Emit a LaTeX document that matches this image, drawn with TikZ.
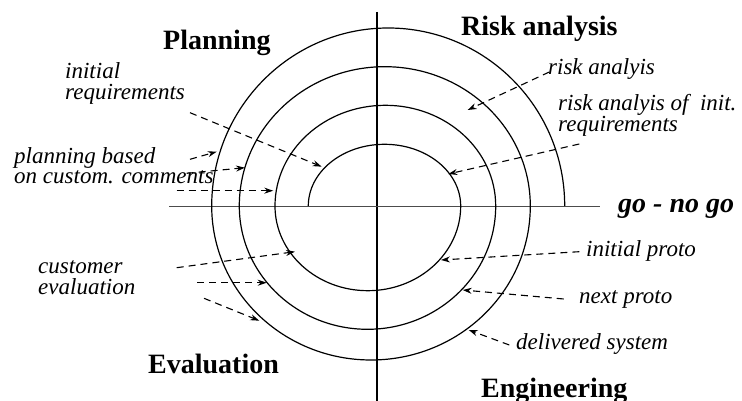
\documentclass[tikz,border=0pt]{standalone}
\usepackage{fontspec}
\setmainfont{Liberation Serif}
\usetikzlibrary{arrows.meta,positioning,calc}
\tikzset{
	x=1pt, y=1pt, >={Stealth[length=9pt,width=6pt]},
	phase/.style={font=\fontsize{28}{30}\selectfont\bfseries, inner sep=0pt, anchor=base west},
	lbl/.style={font=\fontsize{23}{21}\selectfont\itshape, inner sep=0pt, anchor=base west, align=left},
	ring/.style={line width=1.2pt},
	hint/.style={->, line width=1.1pt, dash pattern=on 7pt off 5pt},
}
\begin{document}
\begin{tikzpicture}
	\useasboundingbox (0,0) rectangle (742,401);
	\draw[line width=1.6pt] (377,389) -- (377,0);
	\draw[line width=0.9pt, black!70] (169,195) -- (600,195);
	\draw[ring] (308.3,195)
		arc[start angle=180, end angle=0, x radius=76.2, y radius=61.7]
		arc[start angle=0, end angle=-180, x radius=92.85, y radius=84.7]
		arc[start angle=180, end angle=0, x radius=110.35, y radius=100.7]
		arc[start angle=0, end angle=-180, x radius=128.2, y radius=123.3]
		arc[start angle=180, end angle=0, x radius=145.5, y radius=139.3]
		arc[start angle=0, end angle=-180, x radius=159.3, y radius=154]
		arc[start angle=180, end angle=0, x radius=176.5, y radius=178];

	\node[phase] (plan) at (163,351) {Planning};
	\node[phase] (risk) at (461,365) {Risk analysis};
	\node[phase, font=\fontsize{28}{30}\selectfont\bfseries\itshape] (gonogo) at (618,188) {go - no go};
	\node[phase] (eval) at (148,27) {Evaluation};
	\node[phase] (eng) at (481,3) {Engineering};

	\node[lbl] (ireq) at (65,301) {initial\\requirements};
	\node[lbl, font=\fontsize{23}{20}\selectfont\itshape] (pbased) at (14,217.7) {planning based\\on custom. comments};
	\node[lbl] (ranal) at (548,326) {risk analyis};
	\node[lbl, font=\fontsize{23}{20}\selectfont\itshape] (rinit) at (558,269.3) {risk analyis of~ init.\\requirements};
	\node[lbl] (ceval) at (38,106.7) {customer\\evaluation};
	\node[lbl] (iproto) at (586,144.3) {initial proto};
	\node[lbl] (nproto) at (579,97) {next proto};
	\node[lbl] (dsys) at (516,51) {delivered system};

	\coordinate (a1) at (190,288.3);   \coordinate (b1) at (321.7,234.3);
	\coordinate (a2) at (190,241.7);   \coordinate (b2) at (216.7,249.3);
	\coordinate (a3) at (186.7,227.7); \coordinate (b3) at (245,233.3);
	\coordinate (a4) at (176.7,210.3); \coordinate (b4) at (273.3,210.3);
	\coordinate (a5) at (549.3,329);   \coordinate (b5) at (467.7,291);
	\coordinate (a6) at (579.3,257);   \coordinate (b6) at (448.3,227);
	\coordinate (a7) at (176.7,133.3); \coordinate (b7) at (295,149.3);
	\coordinate (a8) at (197.3,118.3); \coordinate (b8) at (266.7,118.3);
	\coordinate (a9) at (204,102.7);   \coordinate (b9) at (259.3,80.3);
	\coordinate (a10) at (579.3,149.3); \coordinate (b10) at (441,141);
	\coordinate (a11) at (563.7,102);  \coordinate (b11) at (462.7,111);
	\coordinate (a12) at (509.3,56);   \coordinate (b12) at (468.7,71);
	\foreach \i in {1,...,12}
		\draw[hint] (a\i) -- (b\i);
\end{tikzpicture}
\end{document}
